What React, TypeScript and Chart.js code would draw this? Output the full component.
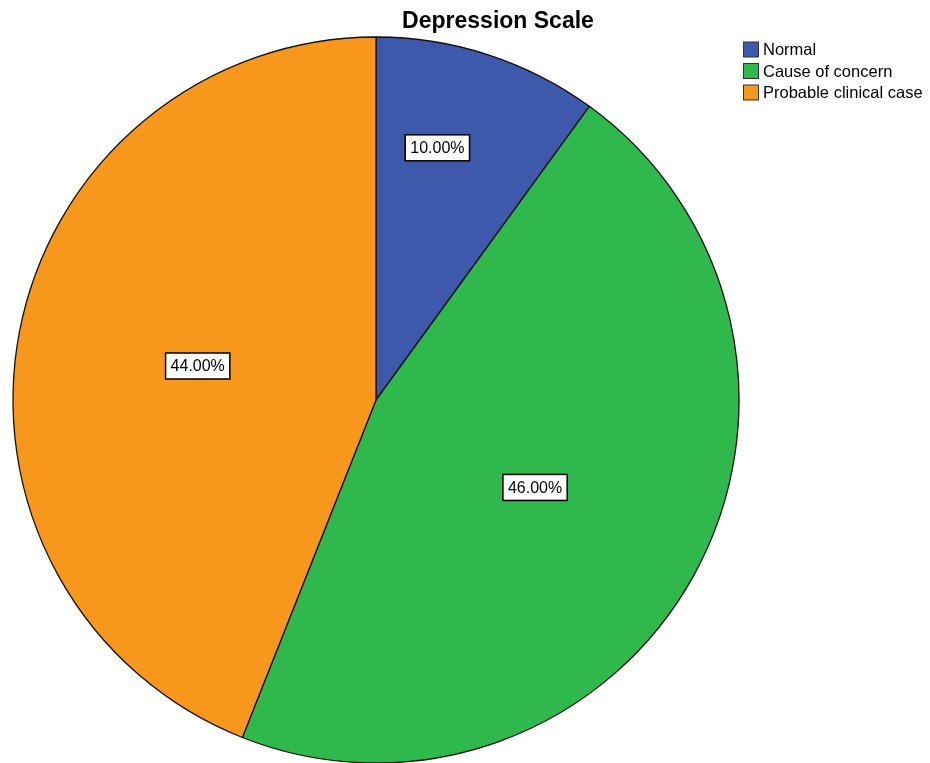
import React, { useEffect, useRef } from "react";
import { Chart, registerables } from "chart.js";

Chart.register(...registerables);

const TITLE = "Depression Scale";
const categories = ["Normal", "Cause of concern", "Probable clinical case"];
const percentages = [10.0, 46.0, 44.0];
const sliceColors = ["#3E58AC", "#2FB84B", "#F7981D"];

const FONT = "'Liberation Sans', Arial, sans-serif";

// Title, legend and boxed percentage labels drawn on top of the pie
const annotations = {
  id: "annotations",
  afterDraw(chart: Chart) {
    const ctx = chart.ctx;
    ctx.save();

    // title
    ctx.fillStyle = "#000";
    ctx.font = `bold 23px ${FONT}`;
    ctx.textAlign = "center";
    ctx.textBaseline = "middle";
    ctx.fillText(TITLE, 498, 22);

    // legend
    ctx.font = `16.5px ${FONT}`;
    ctx.textAlign = "left";
    categories.forEach((name, i) => {
      const y = 49.5 + i * 21.5;
      ctx.fillStyle = sliceColors[i];
      ctx.fillRect(743.5, y - 7.5, 15, 15);
      ctx.strokeStyle = "#333";
      ctx.lineWidth = 1;
      ctx.strokeRect(743.5, y - 7.5, 15, 15);
      ctx.fillStyle = "#000";
      ctx.fillText(name, 763, y + 1);
    });

    // percentage labels; narrow slices push their label outward
    const meta = chart.getDatasetMeta(0);
    ctx.font = `16px ${FONT}`;
    ctx.textAlign = "center";
    meta.data.forEach((el: any, i: number) => {
      const { x, y, startAngle, endAngle, outerRadius } = el.getProps(
        ["x", "y", "startAngle", "endAngle", "outerRadius"],
        true
      );
      const span = endAngle - startAngle;
      const narrow = span < Math.PI / 3;
      const ang = startAngle + span * (narrow ? 0.38 : 0.5);
      const frac = narrow ? 0.715 : 0.5;
      const cx = x + Math.cos(ang) * outerRadius * frac;
      const cy = y + Math.sin(ang) * outerRadius * frac;
      const text = `${percentages[i].toFixed(2)}%`;
      const w = ctx.measureText(text).width + 10;
      const h = 26;
      ctx.fillStyle = "#fff";
      ctx.fillRect(cx - w / 2, cy - h / 2, w, h);
      ctx.strokeStyle = "#000";
      ctx.lineWidth = 1.5;
      ctx.strokeRect(cx - w / 2, cy - h / 2, w, h);
      ctx.fillStyle = "#000";
      ctx.fillText(text, cx, cy + 1);
    });

    ctx.restore();
  },
};

export default function App() {
  const canvasRef = useRef<HTMLCanvasElement>(null);

  useEffect(() => {
    if (!canvasRef.current) return;
    const chart = new Chart(canvasRef.current, {
      type: "pie",
      data: {
        labels: categories,
        datasets: [
          {
            data: percentages,
            backgroundColor: sliceColors,
            borderColor: "#111",
            borderWidth: 1.3,
            radius: 363,
          },
        ],
      },
      options: {
        responsive: false,
        animation: false,
        layout: { padding: { left: 0, right: 178, top: 37, bottom: 0 } },
        plugins: {
          legend: { display: false },
          title: { display: false },
          tooltip: { enabled: false },
        },
      },
      plugins: [annotations],
    });
    return () => chart.destroy();
  }, []);

  return (
    <div style={{ position: "fixed", left: 0, top: 0, width: 930, height: 763, background: "#fff" }}>
      <canvas ref={canvasRef} width={930} height={763} />
    </div>
  );
}
